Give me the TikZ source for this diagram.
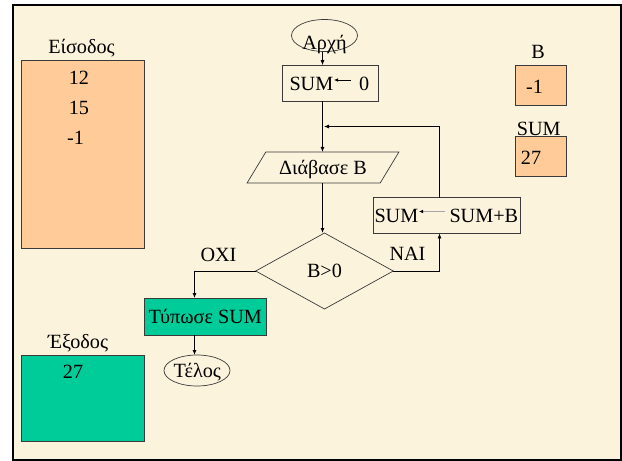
\documentclass[tikz,border=0pt]{standalone}
\usepackage{fontspec}
\setmainfont{Liberation Serif}
\usetikzlibrary{arrows.meta,shapes.geometric}
\definecolor{parchment}{HTML}{FBF3DC}
\definecolor{peach}{HTML}{FFCC99}
\definecolor{sea}{HTML}{00CC99}
\definecolor{edgegray}{HTML}{3A3A3A}
\definecolor{softgray}{HTML}{A6A6A6}
\begin{document}
\begin{tikzpicture}[x=1pt,y=-1pt,
  every node/.style={inner sep=0pt, outer sep=0pt, font=\fontsize{20.2}{24}\selectfont},
  lbl/.style={anchor=base},
  lblw/.style={anchor=base west},
  capcentred/.style={text height=13.4pt, text depth=0pt},
  databox/.style={draw=edgegray, line width=0.6pt},
  flowbox/.style={draw=edgegray, line width=0.7pt, capcentred},
  terminal/.style={ellipse, draw=edgegray, line width=0.7pt},
  flow/.style={draw=black, line width=0.8pt, -{Latex[length=5pt,width=4pt]}},
  assignarrow/.style={line width=0.9pt, -{Latex[length=4pt,width=3.6pt,color=black]}}
]
\useasboundingbox (0,0) rectangle (622,461);
\fill[white] (0,0) rectangle (622,461);

% slide frame
\draw[line width=2pt, fill=parchment] (12.5,5) rectangle (621,459.5);

% ---- input and output tapes ----
\node[lbl] (inTitle) at (81.5,53) {Είσοδος};
\node[databox, fill=peach, minimum width=123pt, minimum height=188pt] (inBox) at (82.5,154) {};
\node[lbl] (in1) at (79,84) {12};
\node[lbl] (in2) at (79,114) {15};
\node[lbl] (in3) at (75.5,144) {-1};

\node[lbl] (outTitle) at (78,348.5) {Έξοδος};
\node[databox, fill=sea, minimum width=123pt, minimum height=86.7pt] (outBox) at (82.5,398.3) {};
\node[lbl] (out1) at (73,378) {27};

% ---- variable boxes ----
\node[lbl] (bTitle) at (538,58.3) {B};
\node[databox, fill=peach, minimum width=50.3pt, minimum height=40.2pt] (bBox) at (540.85,85.6) {};
\node[lbl] (bVal) at (534.5,93.3) {-1};

\node[lbl] (sumTitle) at (538.7,135) {SUM};
\node[databox, fill=peach, minimum width=50.3pt, minimum height=40pt] (sumBox) at (540.85,156.7) {};
\node[lbl] (sumVal) at (531,164) {27};

% ---- flowchart ----
\coordinate (colx) at (322.5,0);
\coordinate (loopx) at (439.5,0);
\coordinate (outx) at (194.5,0);

\node[terminal, minimum width=66pt, minimum height=32pt] (start) at (324.5,35.5) {};
\node[lbl] (startText) at (324.5,49.5) {Αρχή};

\node[flowbox, minimum width=96pt, minimum height=35.7pt] (init) at (330,83) {};
\node[lblw] (initSum) at (289.5,90.7) {SUM};
\node[lblw] (initZero) at (359,90.7) {0};
\coordinate (initTail) at (351,80);
\coordinate (initHead) at (334,80);
\draw[assignarrow, draw=black] (initTail) -- (initHead);

\node[trapezium, trapezium left angle=43, trapezium right angle=137,
      trapezium stretches=true, draw=edgegray, line width=0.7pt, capcentred,
      minimum width=152pt, minimum height=31pt] (read) at (323,167.5) {Διάβασε B};

\node[diamond, draw=edgegray, line width=0.7pt, capcentred,
      minimum width=137.5pt, minimum height=76pt] (test) at (324.5,271) {B>0};

\node[flowbox, minimum width=147.5pt, minimum height=35.8pt] (update) at (446.75,215.5) {};
\node[lblw] (updSum) at (374.5,222.7) {SUM};
\node[lblw] (updExpr) at (449.5,222.7) {SUM+B};
\coordinate (updTail) at (445,211.5);
\coordinate (updHead) at (419,211.5);
\draw[assignarrow, draw=softgray] (updTail) -- (updHead);

\node[flowbox, fill=sea, minimum width=122.5pt, minimum height=37pt] (print) at (205.25,316.5) {Τύπωσε SUM};

\node[terminal, minimum width=66pt, minimum height=31pt] (stop) at (197,370.5) {};
\node[lbl] (stopText) at (197.3,377) {Τέλος};

\node[lbl] (noLabel) at (218.5,261) {ΟΧΙ};
\node[lbl] (yesLabel) at (407.5,260.7) {ΝΑΙ};

\coordinate (join) at (324,126.5);

% connectors
\draw[flow] (start.south -| colx) -- (init.north -| colx);
\draw[flow] (init.south -| colx) -- (read.north -| colx);
\draw[flow] (read.south -| colx) -- (test.north -| colx);
\draw[flow] (test.east) -| (update.south -| loopx);
\draw[flow] (update.north -| loopx) |- (join);
\draw[flow] (test.west) -| (print.north -| outx);
\draw[flow] (print.south -| outx) -- (stop.north -| outx);
\end{tikzpicture}
\end{document}
